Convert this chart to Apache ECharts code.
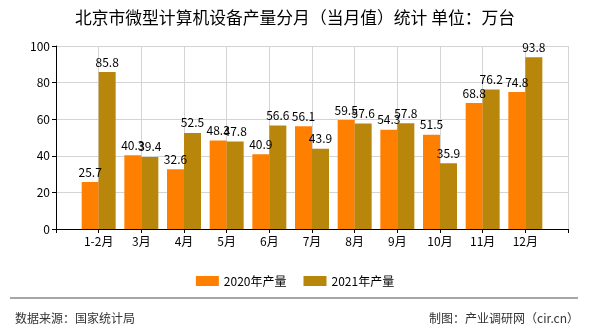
<!DOCTYPE html>
<html>
<head>
<meta charset="utf-8">
<script src="https://cdn.jsdelivr.net/npm/echarts@6/dist/echarts.min.js"></script>
<style>
html,body{margin:0;padding:0;background:#fff;}
#main{width:590px;height:330px;}
</style>
</head>
<body>
<div id="main"></div>
<script>
var categories = ['1-2月','3月','4月','5月','6月','7月','8月','9月','10月','11月','12月'];
var values2020 = [25.7, 40.3, 32.6, 48.3, 40.9, 56.1, 59.5, 54.3, 51.5, 68.8, 74.8];
var values2021 = [85.8, 39.4, 52.5, 47.8, 56.6, 43.9, 57.6, 57.8, 35.9, 76.2, 93.8];
var seriesNames = ['2020年产量', '2021年产量'];
var yTicks = [0, 20, 40, 60, 80, 100];

var FONT = '"Noto Sans CJK SC", "DejaVu Sans", sans-serif';
var axisData = [''].concat(categories, ['']);
function pad(arr){ return [null].concat(arr, [null]); }

var chart = echarts.init(document.getElementById('main'), null, {renderer:'canvas'});
chart.setOption({
  animation: false,
  backgroundColor: '#fff',
  textStyle: {fontFamily: FONT},
  title: [
    {text: '北京市微型计算机设备产量分月（当月值）统计 单位：万台', left: 'center', top: 4,
     textStyle: {fontSize: 16.8, fontWeight: 'normal', color: '#000', fontFamily: FONT}},
    {text: '数据来源：国家统计局', left: 10, top: 307,
     textStyle: {fontSize: 12, fontWeight: 'normal', color: '#333', fontFamily: FONT}},
    {text: '制图：产业调研网（cir.cn）', right: 6, top: 307,
     textStyle: {fontSize: 12, fontWeight: 'normal', color: '#333', fontFamily: FONT}}
  ],
  graphic: [
    {type: 'line', shape: {x1: 10, y1: 298, x2: 578, y2: 298},
     style: {stroke: '#888', lineWidth: 1.5}}
  ],
  legend: {
    data: seriesNames, left: 'center', top: 270,
    itemWidth: 23, itemHeight: 10, itemGap: 17,
    textStyle: {fontSize: 12, color: '#000', fontFamily: FONT},
    icon: 'rect'
  },
  grid: {left: 56, right: 22, top: 46, bottom: 101, containLabel: false},
  xAxis: {
    type: 'category', data: axisData, boundaryGap: false,
    axisLine: {show: true, lineStyle: {color: '#000', width: 1}},
    axisTick: {show: true, length: 4, lineStyle: {color: '#000'}},
    axisLabel: {interval: 0, fontSize: 12, color: '#000', margin: 6, fontFamily: FONT},
    splitLine: {show: true, lineStyle: {color: '#d4d4d4', width: 1}}
  },
  yAxis: {
    type: 'value', min: yTicks[0], max: yTicks[yTicks.length-1], interval: 20,
    axisLine: {show: true, lineStyle: {color: '#000', width: 1}},
    axisTick: {show: true, length: 4, lineStyle: {color: '#000'}},
    axisLabel: {fontSize: 12, color: '#000', margin: 6, fontFamily: FONT},
    splitLine: {show: true, lineStyle: {color: '#d4d4d4', width: 1}}
  },
  series: [
    {name: seriesNames[0], type: 'bar', data: pad(values2020), barWidth: 17, barGap: '0%',
     itemStyle: {color: '#FF8000'},
     label: {show: true, position: 'top', distance: 4, fontSize: 12, color: '#000', fontFamily: FONT}},
    {name: seriesNames[1], type: 'bar', data: pad(values2021), barWidth: 17, barGap: '0%',
     itemStyle: {color: '#B8860B'},
     label: {show: true, position: 'top', distance: 4, fontSize: 12, color: '#000', fontFamily: FONT}}
  ]
});
</script>
</body>
</html>
